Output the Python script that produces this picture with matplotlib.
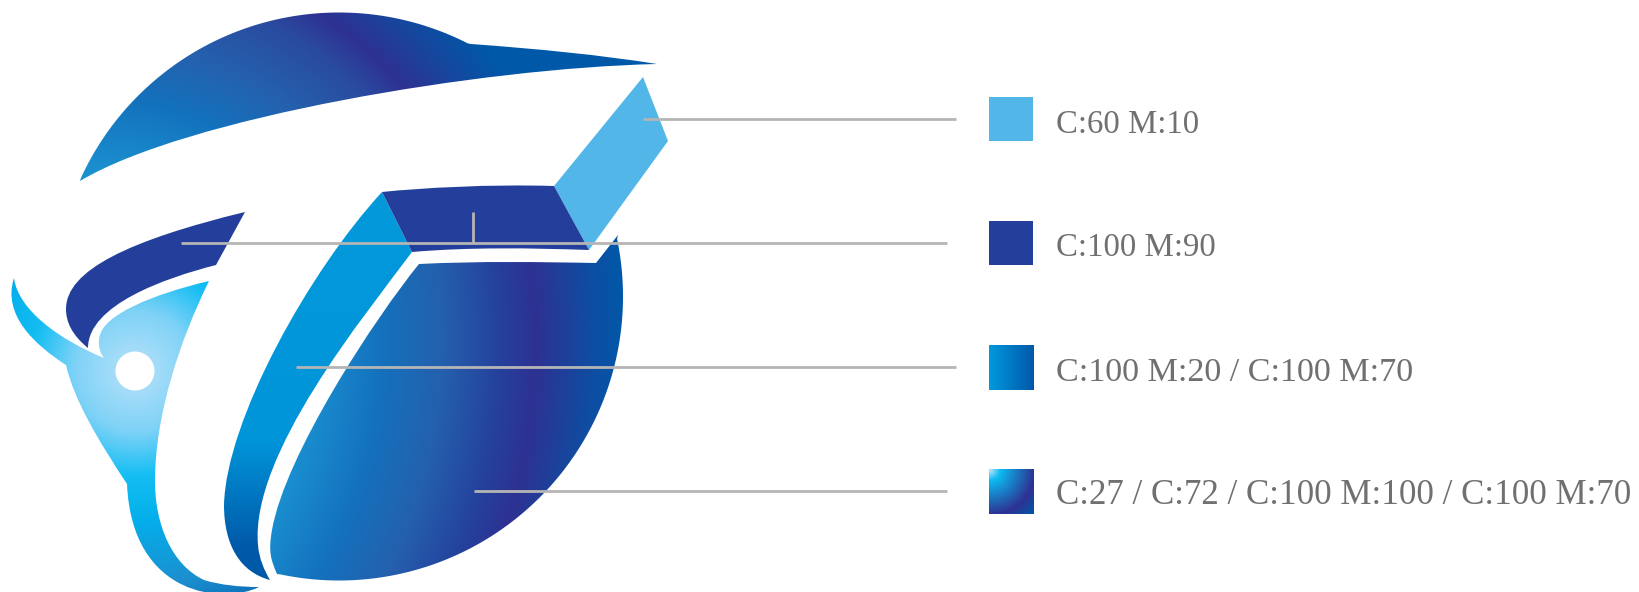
import numpy as np
import matplotlib
matplotlib.use("Agg")
import matplotlib.pyplot as plt
from matplotlib.colors import LinearSegmentedColormap
from matplotlib.patches import Ellipse, PathPatch, Rectangle
from matplotlib.path import Path

W, H = 1639, 592

# legend
labels = ["C:60 M:10", "C:100 M:90", "C:100 M:20 / C:100 M:70",
          "C:27 / C:72 / C:100 M:100 / C:100 M:70"]
label_sizes = [23.6, 23.7, 24.6, 25.2]
baselines = [133, 256, 381, 504]
swatch_boxes = [(989, 97, 1033, 141), (989, 221, 1033, 265),
                (989, 345, 1034, 390), (989, 469, 1034, 514)]

# leader lines (x0, y0, x1, y1)
leaders = [(643, 119, 956, 119), (181, 243, 947, 243), (473, 212, 473, 243),
           (296, 367, 956, 367), (474, 491, 947, 491)]

# big circle the wing top and the lens edge sit on
circle = (339, 296.5, 284)

# outlines: start point, then segments
# one point = straight line, three points = bezier, "arc" + end point = along the circle
wing = [(80, 181),
        ("arc", (471, 44)),
        ((540, 49), (600, 55), (657, 64)),
        ((480, 68), (185, 118), (80, 181))]
light_panel = [(643, 77), ((668, 141),), ((589, 250),), ((554, 186),), ((643, 77),)]
dark_panel = [(382, 192),
              ((420, 188), (490, 184), (554, 186)),
              ((589, 250),),
              ((530, 248), (470, 247), (412, 252)),
              ((382, 192),)]
strip = [(382, 192),
         ((412, 252),),
         ((365, 315), (250, 455), (258, 545)),
         ((259, 558), (264, 570), (270, 580)),
         ((240, 572), (224, 545), (224, 505)),
         ((226, 420), (310, 270), (382, 192))]
lens = [(419, 264),
        ((480, 261), (540, 262), (596, 263)),
        ((618, 235),),
        ("arc", (277, 574)),
        ((271, 560), (268, 552), (272, 530)),
        ((285, 455), (375, 318), (419, 264))]
crescent = [(245, 212),
            ((216, 265),),
            ((165, 278), (88, 305), (88, 348)),
            ((72, 335), (66, 322), (66, 309)),
            ((66, 270), (130, 240), (245, 212))]
bird = [(14, 278),
        ((18, 310), (60, 340), (104, 358)),
        ((98, 350), (98, 340), (100, 335)),
        ((105, 315), (150, 295), (209, 281)),
        ((180, 340), (155, 415), (155, 481)),
        ((155, 525), (172, 565), (204, 580)),
        ((220, 585), (240, 587), (259, 587)),
        ((225, 604), (132, 598), (127, 484)),
        ((98, 440), (74, 400), (66, 365)),
        ((35, 345), (2, 315), (14, 278))]
eye = (135, 371, 39, 39)

# gradient stops
wing_r = [170, 250, 310, 370, 402, 450, 490]
wing_c = ["#1c93d1", "#1372bd", "#2560ad", "#2a4a9e", "#2e3192", "#14499f", "#0058a8"]
lens_r = [400, 470, 530, 590, 624, 680, 713]
lens_c = ["#1a8fd0", "#1471bd", "#2460ad", "#25409c", "#2e3192", "#0f4da2", "#0058a8"]
bird_r = [0, 60, 105, 150, 215, 260]
bird_c = ["#b8e2fa", "#7fd2f7", "#14bef3", "#04aeea", "#1c8fcf", "#0a6ab5"]
strip_y = [190, 440, 550, 585]
strip_c = ["#0399db", "#0095d9", "#0058a8", "#0058a8"]
sw3_x = [989, 1034]
sw3_c = ["#0099dd", "#0058a8"]
sw4_r = [0, 10, 26, 45, 62]
sw4_c = ["#b8e2fa", "#0cbcf2", "#1a7cc4", "#2e3192", "#0058a8"]


def circle_arc(p0, p1):
    # clockwise on screen from p0 to p1
    cx, cy, r = circle
    a0 = np.arctan2(p0[1] - cy, p0[0] - cx)
    a1 = np.arctan2(p1[1] - cy, p1[0] - cx)
    if a1 < a0:
        a1 += 2 * np.pi
    a = np.linspace(a0, a1, 160)[1:-1]
    return [(cx + r * np.cos(v), cy + r * np.sin(v)) for v in a] + [p1]


def outline(shape):
    verts = [shape[0]]
    codes = [Path.MOVETO]
    for seg in shape[1:]:
        if seg[0] == "arc":
            pts = circle_arc(verts[-1], seg[1])
            verts += pts
            codes += [Path.LINETO] * len(pts)
        elif len(seg) == 1:
            verts.append(seg[0])
            codes.append(Path.LINETO)
        else:
            verts += list(seg)
            codes += [Path.CURVE4] * 3
    verts.append(shape[0])
    codes.append(Path.CLOSEPOLY)
    return Path(verts, codes)


def paint(ax, field, box, stops, colors, clip=None):
    x0, y0, x1, y1 = box
    lo, hi = stops[0], stops[-1]
    pos = [(s - lo) / (hi - lo) for s in stops]
    cmap = LinearSegmentedColormap.from_list("g", list(zip(pos, colors)), N=512)
    im = ax.imshow(field, extent=(x0, x1, y1, y0), cmap=cmap, vmin=lo, vmax=hi,
                   aspect="auto", interpolation="bilinear", zorder=2)
    if clip is not None:
        patch = PathPatch(clip, transform=ax.transData, fc="none", ec="none")
        ax.add_patch(patch)
        im.set_clip_path(patch)


def grid(box):
    x0, y0, x1, y1 = box
    return np.meshgrid(np.linspace(x0, x1, int(x1 - x0) * 2), np.linspace(y0, y1, int(y1 - y0) * 2))


def radial(box, cx, cy):
    xx, yy = grid(box)
    return np.hypot(xx - cx, yy - cy)


fig = plt.figure(figsize=(W / 100, H / 100), dpi=100)
ax = fig.add_axes([0, 0, 1, 1])

box = (70, 0, 670, 200)
paint(ax, radial(box, 100, 350), box, wing_r, wing_c, outline(wing))
box = (260, 225, 640, 592)
paint(ax, radial(box, -88, 340), box, lens_r, lens_c, outline(lens))
box = (215, 185, 420, 590)
paint(ax, grid(box)[1], box, strip_y, strip_c, outline(strip))
box = (0, 270, 270, 592)
paint(ax, radial(box, 135, 371), box, bird_r, bird_c, outline(bird))

ax.add_patch(PathPatch(outline(light_panel), fc="#52b6e9", ec="none", zorder=3))
ax.add_patch(PathPatch(outline(dark_panel), fc="#233f9b", ec="none", zorder=3))
ax.add_patch(PathPatch(outline(crescent), fc="#233f9b", ec="none", zorder=3))
ax.add_patch(Ellipse(eye[:2], eye[2], eye[3], fc="white", ec="none", zorder=4))

for x0, y0, x1, y1 in leaders:
    ax.plot([x0, x1], [y0, y1], color="#b5b5b6", lw=2.0, solid_capstyle="butt", zorder=5)

ax.add_patch(Rectangle(swatch_boxes[0][:2], 44, 44, fc="#52b6e9", ec="none"))
ax.add_patch(Rectangle(swatch_boxes[1][:2], 44, 44, fc="#233f9b", ec="none"))
paint(ax, grid(swatch_boxes[2])[0], swatch_boxes[2], sw3_x, sw3_c)
paint(ax, radial(swatch_boxes[3], 990, 470), swatch_boxes[3], sw4_r, sw4_c)

for label, size, y in zip(labels, label_sizes, baselines):
    ax.text(1056, y, label, family="Liberation Serif", fontsize=size, color="#717071",
            ha="left", va="baseline")

ax.set_xlim(0, W)
ax.set_ylim(H, 0)
ax.axis("off")
fig.savefig("out.png", dpi=100, facecolor="white")
